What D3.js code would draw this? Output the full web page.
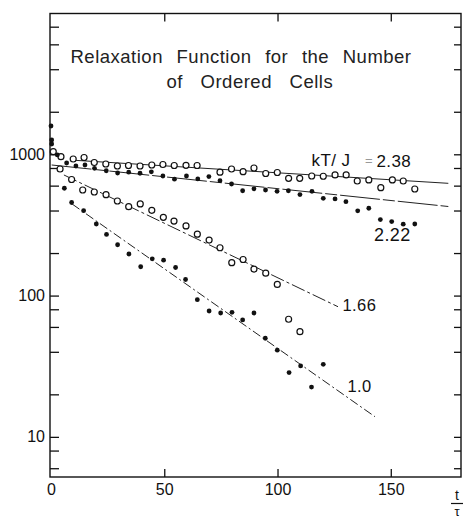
<!DOCTYPE html>
<html><head><meta charset="utf-8">
<script src="https://cdn.jsdelivr.net/npm/d3@7"></script>
<style>body{margin:0;background:#fff}svg{display:block}</style>
</head><body>
<svg id="c" width="464" height="520"></svg>
<script>
// ---- data ----
const t238 = [1.0, 4.4, 9.8, 14.6, 19.1, 24.2, 29.3, 34.2, 39.3, 44.5, 49.4, 54.4, 59.6, 64.5, 74.6, 79.7, 84.8, 89.6, 94.8, 99.9, 104.9, 109.8, 115.1, 120.2, 125.4, 130.3, 135.2, 140.3, 145.6, 150.7, 155.5, 160.6];
const v238 = [1043, 962, 926, 949, 875, 854, 826, 833, 826, 840, 847, 833, 836, 833, 747, 787, 753, 800, 731, 743, 676, 676, 702, 699, 714, 714, 647, 658, 580, 658, 647, 568];

const t222 = [0.3, 2.8, 6.9, 11.0, 15.0, 19.2, 24.4, 29.4, 34.3, 39.3, 44.3, 49.4, 54.5, 59.8, 64.8, 69.7, 74.6, 79.7, 84.6, 89.6, 94.7, 99.8, 104.8, 109.9, 115.2, 120.2, 125.4, 130.2, 135.4, 140.3, 145.4, 150.4, 155.5, 160.6];
const v222 = [1262, 989, 868, 826, 840, 796, 765, 737, 747, 734, 752, 702, 667, 702, 669, 696, 650, 616, 552, 570, 559, 547, 552, 519, 547, 488, 483, 462, 398, 415, 345, 334, 320, 321];

const t166 = [4.0, 9.1, 14.0, 19.1, 24.3, 29.3, 34.3, 39.4, 44.5, 49.6, 54.3, 59.6, 64.6, 69.8, 74.6, 79.8, 84.8, 89.6, 94.8, 99.9, 104.9, 109.9];
const v166 = [787, 663, 559, 541, 518, 467, 426, 445, 401, 358, 337, 311, 272, 247, 218, 171, 180, 154, 144, 120, 68, 55.5];

const t10 = [0, 0.3, 5.9, 9.1, 14.4, 20.0, 24.5, 29.4, 34.4, 39.6, 44.7, 49.7, 55.0, 59.4, 64.6, 69.8, 74.9, 79.9, 84.6, 89.6, 94.6, 99.9, 105.1, 110.2, 115.0, 120.2];
const v10 = [1586, 1183, 575, 456, 399, 321, 271, 229, 197, 160, 182, 178, 158, 130, 93.5, 77.8, 75.3, 76.1, 67.2, 75.3, 49.9, 41.1, 28.5, 31.8, 22.5, 32.6];

// fitted lines (end points)
const fitT238 = [8.4, 175.4], fitV238 = [911, 623];
const fitT222 = [0.3, 175.4], fitV222 = [840, 427];
const fitT166 = [5.7, 126.7], fitV166 = [714, 83.4];
const fitT10  = [9.3, 143.0], fitV10  = [445, 13.9];

const xTickLabels = [0, 50, 100, 150];
const xInnerTicks = [50, 100, 150];
const yLabelTicks = [10, 100, 1000];
const yAllTicks = [6, 8, 10, 20, 40, 60, 80, 100, 200, 400, 600, 800, 1000, 2000, 4000, 6000, 8000];

const titleLines = ["Relaxation Function for the Number", "of Ordered Cells"];
const seriesLabels = ["kT/ J", "=", "2.38", "2.22", "1.66", "1.0"];

// ---- drawing ----
const svg = d3.select("#c");
const FONT = "'Liberation Sans', Arial, sans-serif";
const INK = "#111";

const x = d3.scaleLinear().domain([0, 181]).range([51, 461]);
const y = d3.scaleLog().domain([5.2, 10000]).range([477, 13]);

// frame
svg.append("rect").attr("x", 50).attr("y", 13.5).attr("width", 411).attr("height", 463.5)
  .attr("fill", "none").attr("stroke", INK).attr("stroke-width", 1.4);

function styleAxis(g) {
  g.select(".domain").remove();
  g.selectAll("line").attr("stroke", INK).attr("stroke-width", 1.3);
  g.selectAll("text").attr("font-family", FONT).attr("font-size", 16).attr("fill", INK);
}

// left inner ticks
svg.append("g").attr("transform", "translate(50,0)")
  .call(d3.axisRight(y).tickValues(yAllTicks).tickSize(9).tickFormat(""))
  .call(styleAxis);
// left labels
svg.append("g").attr("transform", "translate(50,0)")
  .call(d3.axisLeft(y).tickValues(yLabelTicks).tickSize(0).tickPadding(5).tickFormat(d3.format("d")))
  .call(styleAxis);
// right inner ticks
svg.append("g").attr("transform", "translate(461,0)")
  .call(d3.axisLeft(y).tickValues(yAllTicks).tickSize(7).tickFormat(""))
  .call(styleAxis);
// bottom inner ticks
svg.append("g").attr("transform", "translate(0,477)")
  .call(d3.axisTop(x).tickValues(xInnerTicks).tickSize(8).tickFormat(""))
  .call(styleAxis);
// bottom labels
svg.append("g").attr("transform", "translate(0,477)")
  .call(d3.axisBottom(x).tickValues(xTickLabels).tickSize(0).tickPadding(7).tickFormat(d3.format("d")))
  .call(styleAxis);
// top inner ticks
svg.append("g").attr("transform", "translate(0,13.5)")
  .call(d3.axisBottom(x).tickValues(xInnerTicks).tickSize(8).tickFormat(""))
  .call(styleAxis);

// axis title t / tau
svg.append("text").attr("x", 457).attr("y", 500).attr("text-anchor", "middle")
  .attr("font-family", FONT).attr("font-size", 14).attr("fill", INK).text("t");
svg.append("line").attr("x1", 451).attr("x2", 463).attr("y1", 503.5).attr("y2", 503.5)
  .attr("stroke", INK).attr("stroke-width", 1.2);
svg.append("text").attr("x", 457).attr("y", 516).attr("text-anchor", "middle")
  .attr("font-family", FONT).attr("font-size", 13).attr("fill", INK).text("τ");

// title
svg.append("text").attr("x", 70.5).attr("y", 62.5)
  .attr("font-family", FONT).attr("font-size", 18.5).attr("letter-spacing", 0.5)
  .attr("word-spacing", 8).attr("fill", "#222").text(titleLines[0]);
svg.append("text").attr("x", 166.5).attr("y", 88)
  .attr("font-family", FONT).attr("font-size", 18.5).attr("letter-spacing", 0.5)
  .attr("word-spacing", 12).attr("fill", "#222").text(titleLines[1]);

// fit lines
const line = d3.line().x(d => x(d[0])).y(d => y(d[1]));
const fits = [
  {t: fitT238, v: fitV238, dash: null},
  {t: fitT222, v: fitV222, dash: "40,3,12,3"},
  {t: fitT166, v: fitV166, dash: "14,3,3,3"},
  {t: fitT10,  v: fitV10,  dash: "9,3,2,3"}
];
fits.forEach(f => {
  svg.append("path").datum(d3.zip(f.t, f.v)).attr("d", line)
    .attr("fill", "none").attr("stroke", "#222").attr("stroke-width", 1)
    .attr("stroke-dasharray", f.dash);
});

// markers
function openPts(ts, vs) {
  svg.append("g").selectAll("circle").data(d3.zip(ts, vs)).join("circle")
    .attr("cx", d => x(d[0])).attr("cy", d => y(d[1])).attr("r", 3)
    .attr("fill", "#fff").attr("stroke", INK).attr("stroke-width", 1.2);
}
function filledPts(ts, vs) {
  svg.append("g").selectAll("circle").data(d3.zip(ts, vs)).join("circle")
    .attr("cx", d => x(d[0])).attr("cy", d => y(d[1])).attr("r", 2.4)
    .attr("fill", INK);
}
openPts(t238, v238);
filledPts(t222, v222);
openPts(t166, v166);
filledPts(t10, v10);

// series labels
function lab(txt, px, py, size, color) {
  svg.append("text").attr("x", px).attr("y", py).attr("font-family", FONT)
    .attr("font-size", size).attr("fill", color || INK).attr("letter-spacing", 0.4).text(txt);
}
lab(seriesLabels[0], 311.5, 166, 17);
lab(seriesLabels[1], 365, 165, 13, "#999");
lab(seriesLabels[2], 376.5, 166.5, 17);
lab(seriesLabels[3], 374, 240.5, 18);
lab(seriesLabels[4], 342.5, 310.5, 16.5);
lab(seriesLabels[5], 347.5, 391.5, 16.5);
</script>
</body></html>
